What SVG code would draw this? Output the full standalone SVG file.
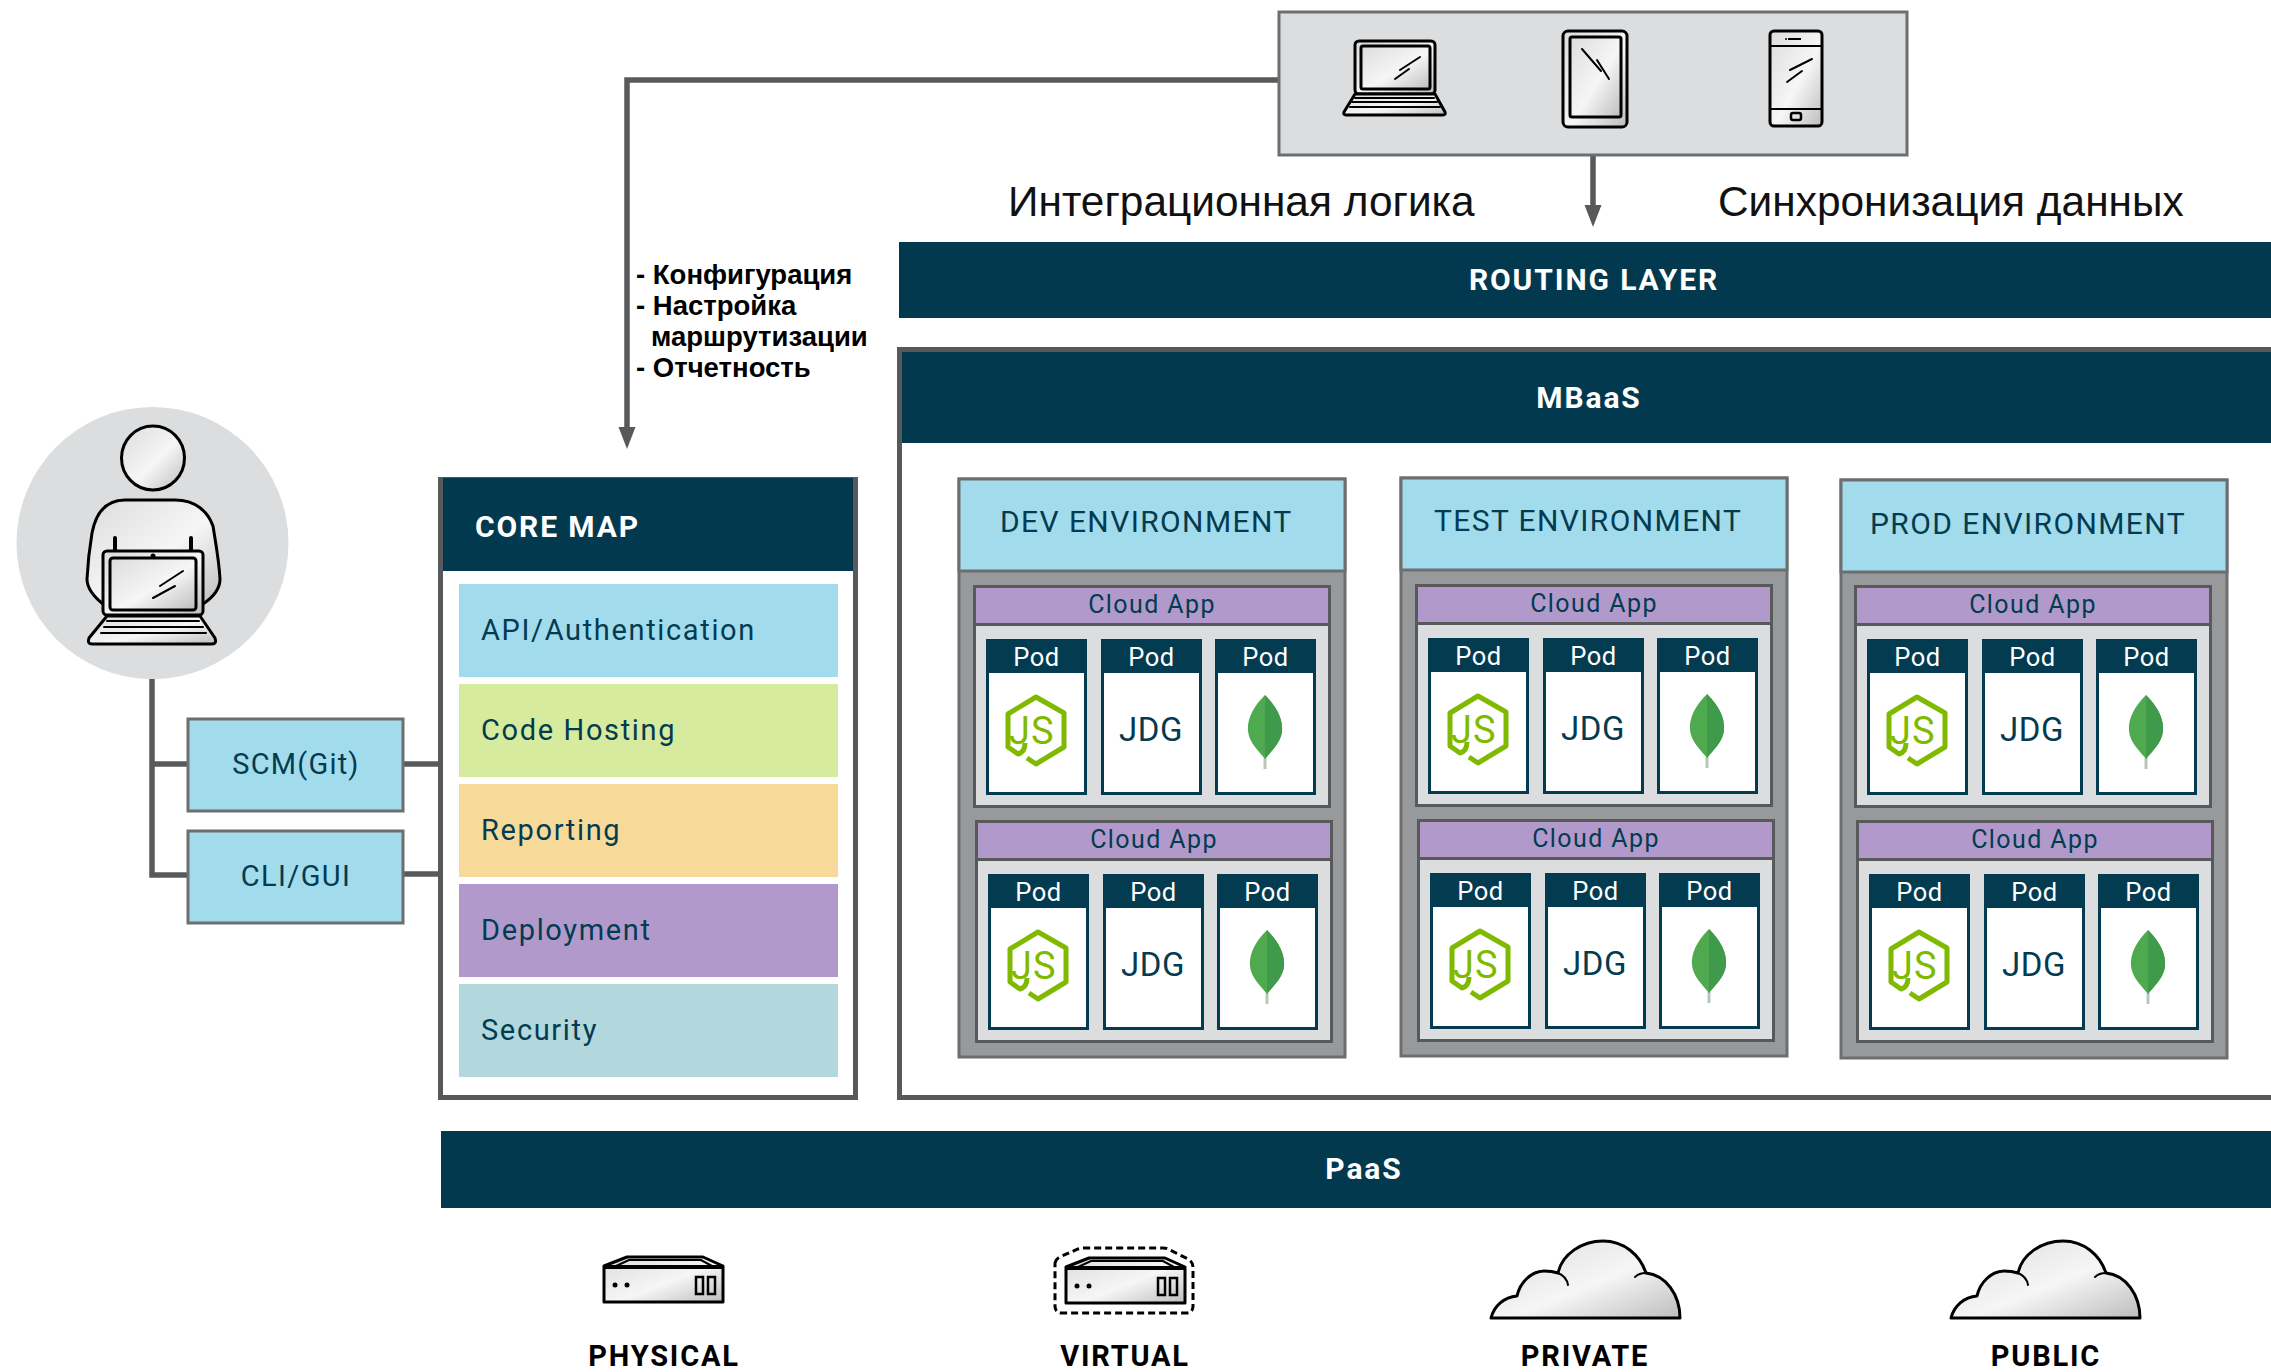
<svg xmlns="http://www.w3.org/2000/svg" width="2271" height="1372" viewBox="0 0 2271 1372">
<style>
text{font-family:Roboto,"Liberation Sans",sans-serif}
.lbl{font-family:"Liberation Sans",sans-serif;fill:#111;font-size:42.4px}
.note{font-family:"Liberation Sans",sans-serif;font-weight:700;fill:#000;font-size:27.5px}
.bar{fill:#02394f}
.h{fill:#fff;font-size:30px;font-weight:700;letter-spacing:1.9px;text-anchor:middle}
.d{fill:#033b50;font-size:29px;letter-spacing:1.65px}
.m{text-anchor:middle}
.b{fill:#000;font-size:29px;font-weight:700;letter-spacing:1.8px;text-anchor:middle}
.ln{fill:none;stroke:#58595b;stroke-width:5.5}
.blue{fill:#a2dbec}
.frame{stroke:#6d6e70;stroke-width:3}
.env{fill:#98999b;stroke:#6d6e70;stroke-width:3}
.app{fill:#dcddde;stroke:#58595b;stroke-width:3}
.apph{fill:#b19acb;stroke:#58595b;stroke-width:3}
.ca{fill:#033b50;font-size:25px;letter-spacing:1.4px;text-anchor:middle}
.pod{fill:#fff;font-size:25.5px;letter-spacing:.5px;text-anchor:middle}
.jdg{fill:#033b50;font-size:33px;letter-spacing:.5px;text-anchor:middle}
.js{fill:#7fba00;font-size:38px;letter-spacing:1px}
.ic{fill:url(#sh);stroke:#000;stroke-width:3;stroke-linejoin:round}
.ic2{fill:none;stroke:#000;stroke-width:2;stroke-linecap:round}
.ic3{fill:none;stroke:#000;stroke-width:4;stroke-linecap:round;stroke-linejoin:round}
</style>
<defs>
<linearGradient id="sh" x1="0" y1="0" x2="1" y2="1"><stop offset="0" stop-color="#dcdcdc"/><stop offset=".55" stop-color="#f6f6f6"/><stop offset="1" stop-color="#bdbdbd"/></linearGradient>
<marker id="arr" markerUnits="userSpaceOnUse" markerWidth="24" markerHeight="20" refX="0" refY="9" orient="auto"><path d="M0,0.5 L22,9 L0,17.500Z" fill="#58595b"/></marker>
<g id="pf"><rect x="1.500" y="1.500" width="98" height="153" fill="#fff" stroke="#033b50" stroke-width="3"/><rect width="101" height="34" fill="#033b50"/></g>
<g id="hex"><path d="M41,119 L50,125 L78,108 V74 L50,58 L22,75 V108 L32,115 Q39,113 39,104" fill="none" stroke="#7fba00" stroke-width="5" stroke-linejoin="round"/></g>
<g id="leaf"><path d="M50,119 V130" stroke="#b9c4bb" stroke-width="3"/><path d="M50,56 C62,68 68,80 67,92 C66,104 56,112 50,120 C44,112 34,104 33,92 C32,80 38,68 50,56Z" fill="#4fa94f"/><path d="M50,56 C62,68 68,80 67,92 C66,104 56,112 50,120Z" fill="#3f9a4b"/></g>
<g id="app"><rect x="1.500" y="1.500" width="355" height="220" class="app"/><rect x="1.500" y="1.500" width="355" height="38" class="apph"/>
<use href="#pf" x="13" y="54"/><use href="#pf" x="128" y="54"/><use href="#pf" x="242" y="54"/>
<use href="#hex" x="13" y="54"/><use href="#leaf" x="242" y="54"/></g>
<g id="srv"><path d="M2,11 L25,2 H101 L121,11 V47 H2Z" class="ic"/><path d="M14,11 L27,5 H99 L110,11" class="ic2"/><rect x="1" y="10" width="121" height="4"/><circle cx="13" cy="30" r="2.500"/><circle cx="25" cy="30" r="2.500"/><rect x="94" y="22" width="7" height="17" fill="none" stroke="#000" stroke-width="2.500"/><rect x="106" y="22" width="7" height="17" fill="none" stroke="#000" stroke-width="2.500"/></g>
<g id="cloud"><path d="M1,78 C4,66 14,57 27,56 C30,42 42,31 54,31 C60,31 65,32 68,33 C72,14 92,1 113,1 C134,1 150,15 156,33 C176,35 190,55 190,78Z" class="ic"/><path d="M68,33 C73,35 77,39 78,45 M145,37 C148,34 152,33 156,33" class="ic2"/></g>
</defs>
<rect width="2271" height="1372" fill="#fff"/>

<g id="connectors">
<path class="ln" d="M1278,80 H627 V427" marker-end="url(#arr)"/>
<path class="ln" d="M1593,155 V205" marker-end="url(#arr)"/>
<path class="ln" d="M152,679 V875 H187 M152,764 H187"/>
<path class="ln" d="M404,764 H438 M404,874 H438"/>
</g>

<g id="devices">
<rect x="1279" y="12" width="628" height="143" fill="#dcddde" stroke="#6d6e70" stroke-width="3"/>
<g id="laptop"><rect x="1355" y="41" width="80" height="53" rx="4" class="ic"/><rect x="1361" y="46" width="69" height="43" rx="2" class="ic"/><path d="M1355,94 L1344,112 Q1343,115 1346,115 H1443 Q1446,115 1445,112 L1435,94Z" class="ic"/><path d="M1355,98 H1434 M1352,102 H1437 M1350,107 H1440" class="ic2"/><path d="M1400,70 L1420,57 M1395,79 L1409,69" class="ic2"/></g>
<g id="tablet"><rect x="1563" y="31" width="64" height="96" rx="5" class="ic" stroke-width="4"/><rect x="1570" y="37" width="51" height="80" rx="2" class="ic"/><path d="M1582,49 L1601,71 M1597,60 L1609,79" class="ic2"/></g>
<g id="phone"><rect x="1770" y="31" width="52" height="95" rx="4" class="ic"/><path d="M1770,46 H1822 M1770,109 H1822" stroke="#000" stroke-width="2" fill="none"/><rect x="1791" y="113" width="10" height="7" rx="2" fill="none" stroke="#000" stroke-width="2.500"/><path d="M1788,39 H1801" stroke="#000" stroke-width="2"/><circle cx="1786" cy="39" r="1"/><path d="M1790,70 L1812,59 M1787,82 L1802,71" class="ic2"/></g>
</g>

<text class="lbl" x="1008" y="216">Интеграционная логика</text>
<text class="lbl" x="1718" y="216">Синхронизация данных</text>

<g id="notes">
<text class="note" x="636" y="284">- Конфигурация</text>
<text class="note" x="636" y="315">- Настройка</text>
<text class="note" x="651" y="346">маршрутизации</text>
<text class="note" x="636" y="377">- Отчетность</text>
</g>

<g id="routing"><rect x="899" y="242" width="1372" height="76" class="bar"/><text class="h" x="1594" y="290">ROUTING LAYER</text></g>

<g id="user">
<circle cx="152.500" cy="543" r="136" fill="#dcddde"/>
<ellipse cx="153" cy="458" rx="31.500" ry="32" class="ic" stroke-width="4"/>
<path d="M103,604 C93,596 87,588 87,579 C88,560 90,545 92,533 C96,512 106,500 125,500 H175 C196,500 208,512 213,526 C216,545 219,560 220,579 C220,590 212,598 203,604" class="ic" stroke-width="4"/>
<path d="M115,538 V552 M191,538 V552" class="ic3"/>
<path d="M107,616 L89,638 Q87,644 92,644 H212 Q217,644 215,638 L200,616Z" class="ic"/>
<rect x="103" y="551" width="100" height="64" rx="4" class="ic"/>
<rect x="110" y="558" width="86" height="52" rx="3" class="ic"/>
<path d="M107,621 H199 M104,627 H203 M101,633 H206" class="ic2"/>
<path d="M160,586 L183,571 M153,598 L175,586" class="ic2"/>
<circle cx="153" cy="556" r="2.500"/>
</g>

<g id="scm"><rect x="188" y="719" width="215" height="92" class="blue frame"/><text class="d m" x="296" y="774" style="letter-spacing:1.2px">SCM(Git)</text></g>
<g id="cli"><rect x="188" y="831" width="215" height="92" class="blue frame"/><text class="d m" x="296" y="886" style="letter-spacing:1.4px">CLI/GUI</text></g>

<g id="core">
<rect x="440.500" y="479.500" width="415" height="618" fill="#fff" stroke="#58595b" stroke-width="5"/>
<rect x="443" y="478" width="410" height="93" class="bar"/>
<text class="h" style="text-anchor:start" x="475" y="537">CORE MAP</text>
<rect x="459" y="584" width="379" height="93" fill="#a2dbec"/><text class="d" x="481" y="640">API/Authentication</text>
<rect x="459" y="684" width="379" height="93" fill="#d6eb9e"/><text class="d" x="481" y="740">Code Hosting</text>
<rect x="459" y="784" width="379" height="93" fill="#f7d99a"/><text class="d" x="481" y="840">Reporting</text>
<rect x="459" y="884" width="379" height="93" fill="#b19acb"/><text class="d" x="481" y="940">Deployment</text>
<rect x="459" y="984" width="379" height="93" fill="#b2d7dc"/><text class="d" x="481" y="1040">Security</text>
</g>

<g id="mbaas">
<rect x="899.500" y="349.500" width="1380" height="748" fill="#fff" stroke="#58595b" stroke-width="5"/>
<rect x="902" y="352" width="1369" height="91" class="bar"/>
<text class="h" x="1589" y="408">MBaaS</text>
</g>

<g id="env-dev">
<rect x="959" y="479" width="386" height="578" class="env"/><rect x="959" y="479" width="386" height="92" class="blue frame"/>
<text class="d" x="1000" y="532" style="font-size:30px;letter-spacing:1.4px">DEV ENVIRONMENT</text>
<g id="app-dev-1" transform="translate(973,585)"><use href="#app"/><text class="ca" x="179" y="28">Cloud App</text>
<text class="pod" x="63.500" y="81">Pod</text><text class="pod" x="178.500" y="81">Pod</text><text class="pod" x="292.500" y="81">Pod</text>
<text class="js" x="36" y="159">JS</text><text class="jdg" x="178" y="156">JDG</text></g>
<g id="app-dev-2" transform="translate(975,820)"><use href="#app"/><text class="ca" x="179" y="28">Cloud App</text>
<text class="pod" x="63.500" y="81">Pod</text><text class="pod" x="178.500" y="81">Pod</text><text class="pod" x="292.500" y="81">Pod</text>
<text class="js" x="36" y="159">JS</text><text class="jdg" x="178" y="156">JDG</text></g>
</g>

<g id="env-test">
<rect x="1401" y="478" width="386" height="578" class="env"/><rect x="1401" y="478" width="386" height="92" class="blue frame"/>
<text class="d" x="1434" y="531" style="font-size:30px;letter-spacing:1.4px">TEST ENVIRONMENT</text>
<g id="app-test-1" transform="translate(1415,584)"><use href="#app"/><text class="ca" x="179" y="28">Cloud App</text>
<text class="pod" x="63.500" y="81">Pod</text><text class="pod" x="178.500" y="81">Pod</text><text class="pod" x="292.500" y="81">Pod</text>
<text class="js" x="36" y="159">JS</text><text class="jdg" x="178" y="156">JDG</text></g>
<g id="app-test-2" transform="translate(1417,819)"><use href="#app"/><text class="ca" x="179" y="28">Cloud App</text>
<text class="pod" x="63.500" y="81">Pod</text><text class="pod" x="178.500" y="81">Pod</text><text class="pod" x="292.500" y="81">Pod</text>
<text class="js" x="36" y="159">JS</text><text class="jdg" x="178" y="156">JDG</text></g>
</g>

<g id="env-prod">
<rect x="1841" y="480" width="386" height="578" class="env"/><rect x="1841" y="480" width="386" height="92" class="blue frame"/>
<text class="d" x="1870" y="534" style="font-size:30px;letter-spacing:1.4px">PROD ENVIRONMENT</text>
<g id="app-prod-1" transform="translate(1854,585)"><use href="#app"/><text class="ca" x="179" y="28">Cloud App</text>
<text class="pod" x="63.500" y="81">Pod</text><text class="pod" x="178.500" y="81">Pod</text><text class="pod" x="292.500" y="81">Pod</text>
<text class="js" x="36" y="159">JS</text><text class="jdg" x="178" y="156">JDG</text></g>
<g id="app-prod-2" transform="translate(1856,820)"><use href="#app"/><text class="ca" x="179" y="28">Cloud App</text>
<text class="pod" x="63.500" y="81">Pod</text><text class="pod" x="178.500" y="81">Pod</text><text class="pod" x="292.500" y="81">Pod</text>
<text class="js" x="36" y="159">JS</text><text class="jdg" x="178" y="156">JDG</text></g>
</g>

<g id="paas"><rect x="441" y="1131" width="1830" height="77" class="bar"/><text class="h" x="1364" y="1179">PaaS</text></g>

<g id="physical"><use href="#srv" x="602" y="1255"/><text class="b" x="664" y="1366">PHYSICAL</text></g>
<g id="virtual"><use href="#srv" x="1064" y="1256"/><path d="M1055,1263 Q1056,1258 1062,1256 L1078,1249 Q1081,1248 1085,1248 H1163 Q1167,1248 1170,1250 L1188,1259 Q1193,1262 1193,1267 V1306 Q1193,1313 1186,1313 H1062 Q1055,1313 1055,1306Z" fill="none" stroke="#000" stroke-width="3" stroke-dasharray="7 4"/><text class="b" x="1125" y="1366">VIRTUAL</text></g>
<g id="private"><use href="#cloud" x="1490" y="1240"/><text class="b" x="1585" y="1366">PRIVATE</text></g>
<g id="public"><use href="#cloud" x="1950" y="1240"/><text class="b" x="2046" y="1366">PUBLIC</text></g>
</svg>
